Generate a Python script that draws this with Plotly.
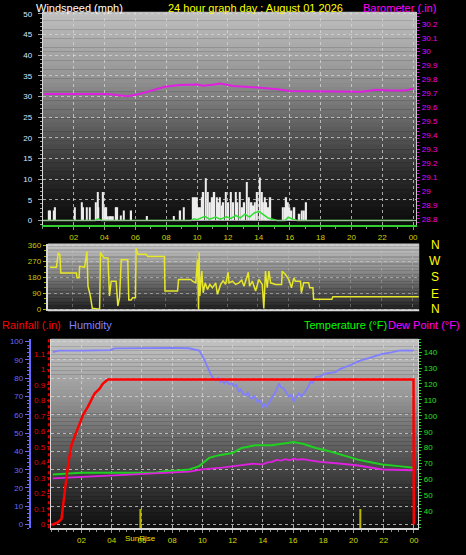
import plotly.graph_objects as go

W, H = 466, 555
FONT = "Liberation Sans, Arial, sans-serif"

# ---------------- data ----------------
hour_ticks = [2, 4, 6, 8, 10, 12, 14, 16, 18, 20, 22, 24]
hour_labels = ['02', '04', '06', '08', '10', '12', '14', '16', '18', '20', '22', '00']

gust_hours = [0.39, 0.48, 0.71, 0.80, 2.09, 2.52, 2.62, 2.84, 3.05, 3.44, 3.55, 3.61, 3.91, 4.02,
              4.12, 4.23, 4.34, 4.45, 4.55, 4.73, 4.83, 5.05, 5.26, 5.73, 6.76, 8.48, 8.91, 9.13,
              9.77, 9.88, 9.98, 10.09, 10.20, 10.31, 10.41, 10.56, 10.69, 10.84, 10.99, 11.12,
              11.27, 11.38, 11.49, 11.59, 11.70, 11.87, 12.02, 12.20, 12.35, 12.50, 12.62, 12.78,
              12.93, 13.06, 13.21, 13.36, 13.53, 13.64, 13.74, 13.89, 14.06, 14.19, 14.28, 14.38,
              14.49, 14.62, 14.75, 15.57, 15.67, 15.78, 15.89, 15.99, 16.12, 16.31, 16.64, 16.79,
              16.92, 17.07]
gust_mph = [2.4, 2.4, 2.4, 3.2, 3.2, 4.4, 3.2, 3.2, 3.2, 4.4, 6.9, 3.2, 6.9, 3.2,
            3.2, 1.0, 1.0, 1.0, 1.0, 3.2, 3.2, 1.2, 2.4, 2.4, 1.1, 1.1, 2.4, 3.2,
            5.6, 5.6, 5.6, 3.2, 3.2, 5.6, 6.9, 10.2, 6.9, 4.4, 5.6, 6.9,
            5.6, 4.4, 5.6, 3.6, 4.4, 6.9, 4.4, 6.9, 4.4, 6.9, 4.4, 6.9,
            3.2, 4.4, 9.3, 5.6, 4.4, 3.6, 4.4, 6.9, 10.4, 6.9, 4.4, 5.6,
            4.4, 3.2, 5.6, 3.2, 3.2, 5.6, 4.4, 3.2, 2.4, 3.2, 1.6, 2.4,
            2.4, 4.4]

avg_hours = [0.0, 3.4, 3.6, 3.8, 9.6, 9.8, 10.0, 10.5, 10.8, 11.2, 11.5, 11.9, 12.2, 12.5,
             12.8, 13.1, 13.4, 13.7, 14.0, 14.3, 14.6, 14.9, 15.2, 15.7, 15.9, 16.2, 16.5, 24.0]
avg_mph = [0.0, 0.0, 0.4, 0.0, 0.0, 0.4, 0.2, 1.0, 0.3, 0.8, 0.3, 0.9, 0.5, 1.2,
           0.6, 1.5, 0.8, 1.8, 2.2, 1.3, 0.6, 0.3, 0.0, 0.0, 0.8, 0.3, 0.0, 0.0]

baro_hours = [0.1, 4.2, 5.5, 6.4, 7.9, 8.9, 10.0, 10.4, 11.0, 11.5, 12.35, 13.2, 14.3, 15.2,
              16.0, 17.0, 18.6, 19.6, 20.7, 21.6, 22.5, 23.5, 24.0]
baro_inhg = [29.696, 29.696, 29.680, 29.700, 29.748, 29.760, 29.764, 29.755, 29.762, 29.771,
             29.753, 29.748, 29.740, 29.730, 29.717, 29.716, 29.714, 29.714, 29.712, 29.726,
             29.721, 29.721, 29.735]

dir_hours = [0.54, 0.97, 1.08, 1.19, 1.25, 2.26, 2.30, 2.43, 2.47, 2.79, 2.94, 3.01, 3.16, 3.29,
             3.76, 3.82, 3.97, 4.08, 4.30, 4.40, 4.51, 4.83, 4.94, 5.05, 5.16, 5.58, 5.65, 5.80,
             5.90, 6.08, 6.12, 6.23, 6.76, 6.87, 7.95, 7.99, 8.80, 8.87, 9.66, 9.77, 9.98, 10.09,
             10.16, 10.20, 10.24, 10.37, 10.46, 10.59, 10.74, 10.89, 11.06, 11.27, 11.38, 11.59,
             11.75, 11.91, 12.07, 12.13, 12.35, 12.56, 12.77, 12.95, 13.10, 13.38, 13.46, 13.64,
             13.85, 14.06, 14.28, 14.38, 14.49, 14.60, 14.71, 14.82, 15.14, 15.53, 15.57, 15.78,
             16.00, 16.17, 16.32, 16.42, 16.75, 16.81, 16.96, 17.28, 17.35, 17.56, 17.60, 18.78,
             18.85, 24.40]
dir_deg = [237, 237, 317, 308, 205, 205, 177, 177, 242, 237, 326, 130, 75, 5,
           0, 321, 298, 289, 289, 75, 158, 158, 19, 65, 280, 280, 52, 52,
           65, 65, 345, 311, 311, 298, 298, 103, 103, 168, 168, 158, 149, 280,
           0, 321, 75, 215, 93, 149, 112, 140, 121, 149, 84, 140,
           160, 140, 209, 149, 158, 140, 149, 165, 130, 209, 130, 158,
           103, 168, 140, 4, 215, 121, 215, 149, 140, 140, 215, 196,
           168, 121, 177, 158, 158, 93, 149, 149, 121, 121, 56, 56,
           71, 71]

rain_hours = [0.0, 0.13, 0.46, 0.68, 0.90, 1.00, 1.12, 1.34, 1.77, 2.10, 2.43, 2.87, 3.20,
              3.42, 3.75, 23.97, 23.99]
rain_in = [0.0, 0.0, 0.015, 0.036, 0.217, 0.300, 0.387, 0.514, 0.620, 0.706, 0.760, 0.844,
           0.876, 0.908, 0.934, 0.934, 0.0]

hum_hours = [0.1, 0.5, 2.0, 3.9, 4.2, 6.0, 8.0, 9.1, 9.5, 9.8, 10.1, 10.3, 10.45, 10.6, 10.75,
             10.9, 11.05, 11.2, 11.3, 11.45, 11.6, 11.75, 12.0, 12.1, 12.25, 12.4, 12.55, 12.7,
             12.87, 13.0, 13.15, 13.3, 13.45, 13.63, 13.8, 14.0, 14.1, 14.25, 14.4, 14.55, 14.73,
             14.9, 15.06, 15.2, 15.39, 15.55, 15.72, 15.9, 16.05, 16.2, 16.38, 16.55, 16.8,
             16.95, 17.15, 17.3, 17.5, 17.8, 18.1, 18.4, 18.8, 19.1, 19.45, 19.9, 20.3, 20.8,
             21.4, 21.9, 22.5, 23.0, 23.5, 24.0]
hum_pct = [94.3, 95.1, 95.1, 95.4, 96.3, 96.6, 96.6, 96.4, 95.6, 95.1, 90.6, 87.0, 83.4, 81.5,
           79.8, 78.9, 80.2, 78.0, 79.3, 77.2, 78.6, 76.8, 77.1, 75.6, 76.4, 72.6, 74.0, 71.5,
           70.8, 72.0, 69.5, 69.0, 70.2, 67.2, 68.0, 64.1, 65.8, 64.5, 66.3, 68.5, 71.7,
           73.5, 77.1, 75.0, 74.4, 72.0, 69.9, 71.0, 67.2, 69.5, 71.7, 70.0, 72.6,
           74.5, 78.0, 77.5, 80.7, 81.0, 82.5, 82.8, 83.4, 85.0, 86.1, 87.5, 89.2, 90.6,
           92.0, 93.3, 94.2, 95.1, 95.3, 95.1]

temp_hours = [0.1, 2.0, 6.9, 7.6, 8.3, 9.13, 9.79, 10.45, 11.1, 12.0, 12.6, 13.5, 14.6, 15.2,
              16.05, 16.7, 17.5, 18.4, 19.45, 20.3, 20.8, 21.9, 23.0, 24.0]
temp_f = [63.2, 64.3, 64.3, 65.3, 65.6, 66.3, 68.4, 73.6, 75.3, 76.7, 79.8, 81.5, 81.5, 82.3,
          83.6, 82.3, 79.8, 77.8, 74.7, 72.5, 71.5, 69.4, 68.4, 67.4]

dew_hours = [0.1, 2.1, 3.6, 5.4, 7.2, 8.5, 9.13, 10.0, 11.3, 12.6, 13.3, 14.0, 14.3, 14.6, 14.9,
             15.2, 15.5, 15.8, 16.05, 16.3, 16.7, 17.0, 17.8, 19.2, 20.3, 21.9, 24.0]
dew_f = [60.7, 61.6, 62.2, 63.2, 63.6, 64.5, 64.9, 66.3, 67.4, 69.1, 69.9, 69.5, 70.8, 71.1, 72.3,
         71.9, 72.8, 72.0, 73.2, 72.4, 72.8, 72.2, 71.1, 69.9, 68.8, 66.3, 65.8]

sun_hours = [5.9, 20.45]

speed_ticks = [0, 5, 10, 15, 20, 25, 30, 35, 40, 45, 50]
baro_ticks = [28.8, 28.9, 29.0, 29.1, 29.2, 29.3, 29.4, 29.5, 29.6, 29.7, 29.8, 29.9, 30.0, 30.1, 30.2]
baro_labels = ['28.8', '28.9', '29', '29.1', '29.2', '29.3', '29.4', '29.5', '29.6', '29.7',
               '29.8', '29.9', '30', '30.1', '30.2']
dir_ticks = [0, 90, 180, 270, 360]
compass = ['N', 'W', 'S', 'E', 'N']
rain_ticks = [0, 0.1, 0.2, 0.3, 0.4, 0.5, 0.6, 0.7, 0.8, 0.9, 1.0, 1.1, 1.2]
rain_labels = ['0', '0.1', '0.2', '0.3', '0.4', '0.5', '0.6', '0.7', '0.8', '0.9', '1', '1.1', '1.2']
hum_ticks = [0, 10, 20, 30, 40, 50, 60, 70, 80, 90, 100]
temp_ticks = [40, 50, 60, 70, 80, 90, 100, 110, 120, 130, 140]


# ---------------- helpers ----------------
def px_x(x):
    return x / W


def px_y(y):
    return 1 - y / H


TOP = (43, 418, 10, 225)
MID = (48, 421, 244, 312)
BOT = (51, 420, 340, 531)


def dom(box):
    x0, x1, y0, y1 = box
    return [px_x(x0), px_x(x1)], [px_y(y1), px_y(y0)]


def interp(stops, f):
    for (f0, g0), (f1, g1) in zip(stops[:-1], stops[1:]):
        if f0 <= f <= f1:
            return g0 + (g1 - g0) * (f - f0) / (f1 - f0)
    return stops[-1][1]


shapes = []


def gradient(box, stops, n=48):
    x0, x1, y0, y1 = box
    for i in range(n):
        ya = y0 + (y1 - y0) * i / n
        yb = y0 + (y1 - y0) * (i + 1) / n
        g = int(interp(stops, (i + 0.5) / n))
        shapes.append(dict(type='rect', xref='paper', yref='paper', layer='below',
                           x0=px_x(x0), x1=px_x(x1), y0=px_y(yb), y1=px_y(ya) + 0.0005,
                           fillcolor=f'rgb({g},{g},{g})', line=dict(width=0)))


gradient(TOP, [(0, 192), (0.3, 150), (0.5, 105), (0.7, 58), (0.85, 30), (1, 12)])
gradient(MID, [(0, 200), (0.4, 140), (0.7, 85), (1, 28)])
gradient(BOT, [(0, 196), (0.3, 152), (0.55, 100), (0.75, 58), (1, 14)])

# red dotted rainfall axis line
shapes.append(dict(type='line', xref='paper', yref='paper', x0=px_x(49), x1=px_x(49),
                   y0=px_y(BOT[3]), y1=px_y(BOT[2]), line=dict(color='#e00000', width=2, dash='dot')))
# middle panel bottom border
shapes.append(dict(type='line', xref='paper', yref='paper', x0=px_x(MID[0]), x1=px_x(MID[1]),
                   y0=px_y(311), y1=px_y(311), line=dict(color='#d8d8d8', width=2)))
# zero baseline of the wind panel
shapes.append(dict(type='line', xref='x', yref='y', x0=0, x1=24.2, y0=0, y1=0,
                   line=dict(color='#b0b0b0', width=1)))
# sunrise / sunset markers
for h in sun_hours:
    shapes.append(dict(type='line', xref='x3', yref='y4', x0=h, x1=h, y0=-0.024, y1=0.1,
                       line=dict(color='#b8b800', width=2)))

# ---------------- traces ----------------
fig = go.Figure()
fig.add_trace(go.Bar(x=gust_hours, y=gust_mph, width=0.1, marker=dict(color='#ececec', line=dict(width=0)),
                     xaxis='x', yaxis='y', hoverinfo='skip'))
fig.add_trace(go.Scatter(x=avg_hours, y=avg_mph, mode='lines', line=dict(color='#30e030', width=1.5),
                         xaxis='x', yaxis='y'))
fig.add_trace(go.Scatter(x=baro_hours, y=baro_inhg, mode='lines', line=dict(color='#e020e0', width=2),
                         xaxis='x', yaxis='y2'))
fig.add_trace(go.Scatter(x=dir_hours, y=dir_deg, mode='lines', line=dict(color='#e6e62a', width=1.5),
                         xaxis='x2', yaxis='y3'))
fig.add_trace(go.Scatter(x=hum_hours, y=hum_pct, mode='lines', line=dict(color='#8080ff', width=1.8),
                         xaxis='x3', yaxis='y5'))
fig.add_trace(go.Scatter(x=temp_hours, y=temp_f, mode='lines', line=dict(color='#20d020', width=2),
                         xaxis='x3', yaxis='y6'))
fig.add_trace(go.Scatter(x=dew_hours, y=dew_f, mode='lines', line=dict(color='#e020e0', width=1.8),
                         xaxis='x3', yaxis='y6'))
fig.add_trace(go.Scatter(x=rain_hours, y=rain_in, mode='lines', line=dict(color='#ff0000', width=2.5),
                         xaxis='x3', yaxis='y7'))

tdx, tdy = dom(TOP)
mdx, mdy = dom(MID)
bdx, bdy = dom(BOT)

grid = dict(showgrid=True, gridcolor='rgba(215,215,215,0.75)', griddash='dot', gridwidth=1)
tf = lambda c: dict(family=FONT, size=8, color=c)
rain_range = [-0.024, 1.196]

layout = dict(
    width=W, height=H, autosize=False,
    margin=dict(l=0, r=0, t=0, b=0),
    paper_bgcolor='black', plot_bgcolor='rgba(0,0,0,0)',
    showlegend=False, barmode='overlay', font=dict(family=FONT),
    shapes=shapes,
    xaxis=dict(domain=tdx, anchor='y', range=[0, 24.2], tickvals=hour_ticks, ticktext=hour_labels,
               tickfont=tf('#d0d000'), ticks='outside', ticklen=3, tickcolor='#909090',
               minor=dict(ticks='outside', dtick=1, ticklen=2, tickcolor='#909090', showgrid=False),
               showline=True, linecolor='#30d030', linewidth=2, zeroline=False, **grid),
    yaxis=dict(domain=tdy, anchor='x', range=[-1.1, 50.5], tickvals=speed_ticks,
               tickfont=tf('#d8e8ff'), ticks='outside', ticklen=4, tickcolor='#a0a0a0',
               ticklabelstandoff=4,
               minor=dict(ticks='outside', dtick=1, ticklen=2, tickcolor='#a0a0a0', showgrid=False),
               showline=True, linecolor='#d8d8d8', linewidth=1, zeroline=False, **grid),
    yaxis2=dict(overlaying='y', anchor='x', side='right', range=[28.757, 30.285],
                tickvals=baro_ticks, ticktext=baro_labels, tickfont=tf('#f000f0'),
                ticks='outside', ticklen=3, tickcolor='#e000e0',
                minor=dict(ticks='outside', dtick=0.025, ticklen=2, tickcolor='#e000e0', showgrid=False),
                showline=True, linecolor='#c8c8c8', showgrid=False, zeroline=False),
    xaxis2=dict(domain=mdx, anchor='y3', side='top', range=[0.41, 24.43], tickvals=hour_ticks,
                showticklabels=False, ticks='', showline=False,
                zeroline=False, showgrid=True, gridcolor='rgba(200,200,200,0.35)', griddash='dot'),
    yaxis3=dict(domain=mdy, anchor='x2', range=[-11.2, 369.5], tickvals=dir_ticks,
                tickfont=tf('#c8c800'), ticks='outside', ticklen=3, tickcolor='#b0b000',
                minor=dict(ticks='outside', dtick=30, ticklen=2, tickcolor='#b0b000', showgrid=False),
                showline=True, linecolor='#d8d8d8', linewidth=2, zeroline=False,
                showgrid=True, gridcolor='rgba(220,220,220,0.5)', griddash='dot'),
    xaxis3=dict(domain=bdx, anchor='y4', range=[-0.03, 24.28], tickvals=hour_ticks,
                ticktext=hour_labels, tickfont=tf('#d8d800'), ticks='outside', ticklen=3,
                tickcolor='#909090',
                minor=dict(ticks='outside', dtick=0.5, ticklen=2, tickcolor='#909090', showgrid=False),
                showline=True, linecolor='#d8d8d8', linewidth=2, zeroline=False, **grid),
    yaxis4=dict(domain=bdy, anchor='x3', range=rain_range, tickvals=rain_ticks, ticktext=rain_labels,
                tickfont=tf('#e80000'), ticks='outside', ticklen=3, tickcolor='#e00000',
                showline=True, linecolor='#d8d8d8', linewidth=1, showgrid=False, zeroline=False),
    yaxis5=dict(overlaying='y4', anchor='free', position=px_x(30), side='left', range=[-2, 101.5],
                tickvals=hum_ticks, tickfont=tf('#6a6aff'), ticks='outside', ticklen=4,
                tickcolor='#6a6aff',
                minor=dict(ticks='outside', dtick=2, ticklen=2, tickcolor='#6a6aff', showgrid=False),
                showline=True, linecolor='#6a6aff', linewidth=2, zeroline=False, **grid),
    yaxis6=dict(overlaying='y4', anchor='x3', side='right', range=[29.4, 148.3], tickvals=temp_ticks,
                tickfont=tf('#20e020'), ticks='outside', ticklen=3, tickcolor='#20d020',
                minor=dict(ticks='outside', dtick=2, ticklen=2, tickcolor='#20d020', showgrid=False),
                showline=True, linecolor='#d8d8d8', showgrid=False, zeroline=False),
    # hidden twin of the rainfall axis so the rain line draws above the other series
    yaxis7=dict(overlaying='y4', anchor='x3', side='left', range=rain_range, visible=False,
                showgrid=False, zeroline=False),
)
fig.update_layout(**layout)


def note(text, x, y, color, size=11, xanchor='left', yanchor='middle'):
    fig.add_annotation(text=text, x=px_x(x), y=px_y(y), xref='paper', yref='paper',
                       xanchor=xanchor, yanchor=yanchor, showarrow=False,
                       font=dict(family=FONT, size=size, color=color))


note('Windspeed (mph)', 34, 6, '#ffffff')
note('24 hour graph day : August 01 2026', 257, 6, '#ffff00', xanchor='center')
note('Barometer (.in)', 440, 6, '#ff00ff', xanchor='right')
note('Rainfall (.in)', 0, 326, '#ff0000')
note('Humidity', 67, 326, '#8080ff')
note('Temperature (°F)', 391, 326, '#00ff00', xanchor='right')
note('Dew Point (°F)', 464, 326, '#ff00ff', xanchor='right')
for lbl, yy in zip(compass, [245, 261, 278, 295, 310]):
    note(lbl, 437, yy, '#ffff00', size=12, xanchor='center')
fig.add_annotation(text='SunRise', x=sun_hours[0], y=0, xref='x3', yref='paper',
                   yshift=px_y(541) * H, xanchor='center', yanchor='middle', showarrow=False,
                   font=dict(family=FONT, size=8, color='#e0e000'))

fig.write_html('out.html', config={'displayModeBar': False},
               post_script="document.body.style.margin='0';document.body.style.padding='0';"
                           "document.body.style.background='black';")
